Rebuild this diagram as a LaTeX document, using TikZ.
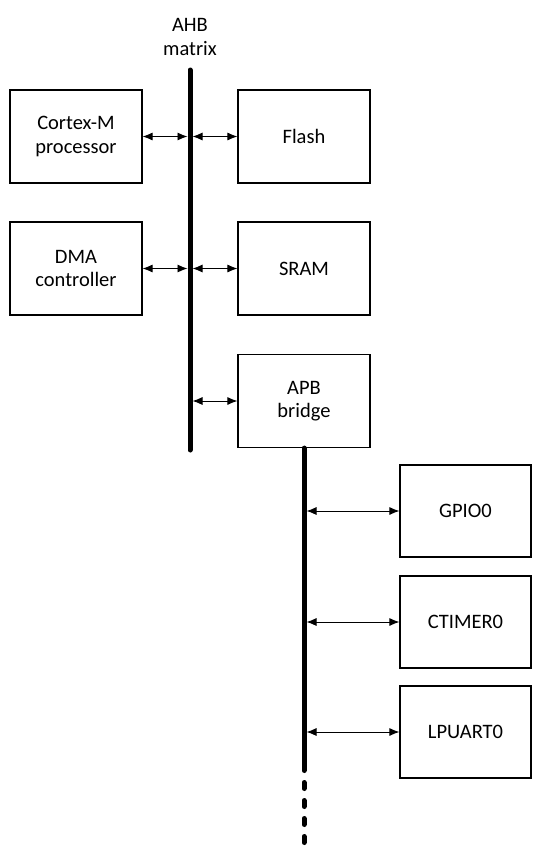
\documentclass[tikz,border=0pt]{standalone}
\usepackage{fontspec}
\setmainfont{Carlito}
\usetikzlibrary{arrows.meta}
\tikzset{
	blk/.style = {draw, line width=1.2pt, minimum width=132pt, minimum height=93pt, align=center, inner sep=0pt},
	bus/.style = {line width=5pt, line cap=round},
	link/.style = {{Latex[length=10pt,width=8pt]}-{Latex[length=10pt,width=8pt]}, line width=0.9pt}
}
\begin{document}
\begin{tikzpicture}[x=1pt, y=-1pt, font=\fontsize{20.5}{23.5}\selectfont]
		\useasboundingbox (0,0) rectangle (542,865);
		
		% AHB side
		\node[align=center] (ahblbl) at (190,37) {AHB\\matrix};
		\coordinate (ahbtop) at (190,70);
		\coordinate (ahbend) at (190,450);
		\draw[bus] (ahbtop) -- (ahbend);
		
		\node[blk] (cpu) at (76,136.5) {Cortex-M\\processor};
		\node[blk] (dma) at (76,268.5) {DMA\\controller};
		\node[blk] (flash) at (304,136.5) {Flash};
		\node[blk] (sram) at (304,268.5) {SRAM};
		\node[blk] (apb) at (304,401) {APB\\bridge};
		
		\draw[link] (cpu.east) -- ([xshift=-2.5pt]cpu.east -| ahbtop);
		\draw[link] (dma.east) -- ([xshift=-2.5pt]dma.east -| ahbtop);
		\draw[link] ([xshift=2.5pt]flash.west -| ahbtop) -- (flash.west);
		\draw[link] ([xshift=2.5pt]sram.west -| ahbtop) -- (sram.west);
		\draw[link] ([xshift=2.5pt]apb.west -| ahbtop) -- (apb.west);
		
		% APB side
		\coordinate (apbend) at (304,770.5);
		\coordinate (dotstart) at (304,782.5);
		\coordinate (dotend) at (304,846);
		\draw[bus] (apb.south) -- (apbend);
		\draw[bus, dash pattern=on 6pt off 12pt] (dotstart) -- (dotend);
		
		\node[blk, minimum width=131pt, minimum height=92pt] (gpio) at (465.5,511) {GPIO0};
		\node[blk, minimum width=131pt, minimum height=92pt] (ctimer) at (465.5,622) {CTIMER0};
		\node[blk, minimum width=131pt, minimum height=92pt] (lpuart) at (465.5,732) {LPUART0};
		
		\draw[link] ([xshift=2.5pt]gpio.west -| apbend) -- (gpio.west);
		\draw[link] ([xshift=2.5pt]ctimer.west -| apbend) -- (ctimer.west);
		\draw[link] ([xshift=2.5pt]lpuart.west -| apbend) -- (lpuart.west);
		\end{tikzpicture}
\end{document}
